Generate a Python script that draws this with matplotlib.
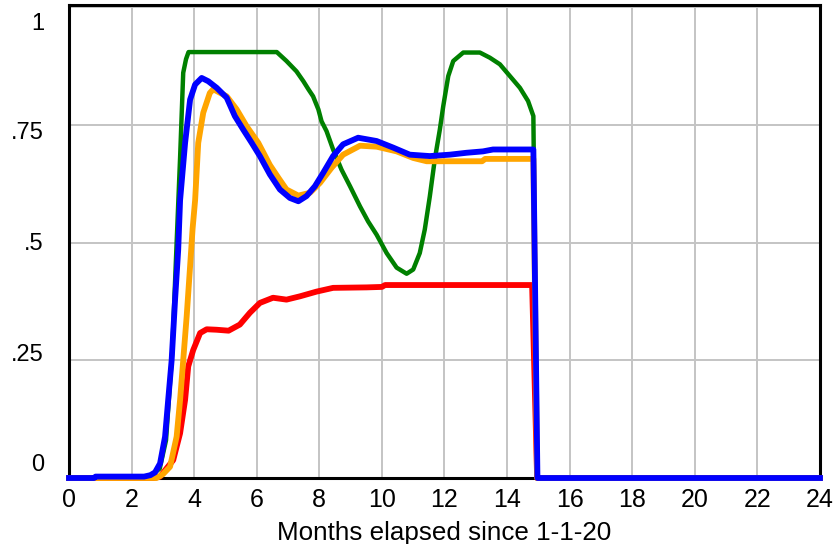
import matplotlib
matplotlib.use('Agg')
import matplotlib.pyplot as plt
from matplotlib.transforms import offset_copy

plt.rcParams['font.family'] = ['Liberation Sans', 'DejaVu Sans']

# 各曲线数据（月份, 数值）
green_x = [0, 2.6, 2.9, 3.1, 3.3, 3.44, 3.55, 3.65, 3.74, 3.82, 6.64, 6.95, 7.27, 7.49, 7.65,
           7.8, 7.97, 8.07, 8.23, 8.44, 8.71, 8.98, 9.3, 9.56, 9.83, 10.15, 10.47, 10.79, 11.0,
           11.21, 11.37, 11.53, 11.69, 11.85, 11.96, 12.12, 12.28, 12.6, 13.13, 13.45, 13.77,
           14.09, 14.41, 14.67, 14.84, 14.96, 24]
green_y = [0, 0.004, 0.02, 0.08, 0.27, 0.5, 0.68, 0.861, 0.89, 0.905, 0.905, 0.886, 0.864,
           0.843, 0.826, 0.811, 0.783, 0.758, 0.737, 0.698, 0.655, 0.62, 0.577, 0.545, 0.517,
           0.478, 0.447, 0.434, 0.443, 0.478, 0.528, 0.598, 0.677, 0.74, 0.79, 0.854, 0.886,
           0.904, 0.904, 0.893, 0.879, 0.854, 0.829, 0.801, 0.769, 0, 0]

orange_x = [0, 2.8, 3.0, 3.23, 3.44, 3.55, 3.65, 3.76, 3.87, 3.95, 4.03, 4.13, 4.29, 4.5, 4.61,
            5.04, 5.36, 5.68, 6.05, 6.42, 6.69, 6.95, 7.33, 7.7, 8.02, 8.39, 8.76, 9.3, 9.83,
            10.47, 11.0, 11.43, 13.2, 13.3, 14.84, 14.96, 24]
orange_y = [0, 0, 0.008, 0.024, 0.088, 0.166, 0.25, 0.343, 0.45, 0.53, 0.59, 0.712, 0.776,
            0.818, 0.826, 0.811, 0.783, 0.747, 0.712, 0.665, 0.638, 0.613, 0.6, 0.606, 0.627,
            0.659, 0.687, 0.706, 0.704, 0.694, 0.68, 0.673, 0.673, 0.678, 0.678, 0, 0]

red_x = [0, 2.7, 2.91, 3.33, 3.55, 3.71, 3.81, 3.97, 4.19, 4.4, 4.72, 5.1, 5.46, 5.78, 6.1,
         6.52, 6.95, 7.38, 7.91, 8.44, 9.51, 10.0, 10.1, 14.8, 14.96, 24]
red_y = [0, 0, 0.003, 0.038, 0.095, 0.166, 0.237, 0.272, 0.308, 0.316, 0.315, 0.313, 0.326,
         0.351, 0.372, 0.383, 0.379, 0.386, 0.396, 0.404, 0.405, 0.406, 0.41, 0.41, 0, 0]

blue_x = [0, 0.8, 0.85, 2.4, 2.6, 2.75, 2.91, 3.07, 3.17, 3.28, 3.39, 3.49, 3.55, 3.71, 3.87,
          4.03, 4.24, 4.45, 4.72, 5.04, 5.3, 5.57, 5.84, 6.1, 6.42, 6.74, 7.06, 7.33, 7.59,
          7.86, 8.12, 8.44, 8.76, 9.24, 9.83, 10.36, 10.89, 11.53, 12.17, 12.7, 13.23, 13.55,
          14.84, 14.97, 24]
blue_y = [0, 0, 0.003, 0.003, 0.006, 0.012, 0.031, 0.088, 0.166, 0.25, 0.379, 0.485, 0.59,
          0.712, 0.804, 0.836, 0.85, 0.843, 0.829, 0.808, 0.769, 0.74, 0.712, 0.684, 0.645,
          0.613, 0.595, 0.588, 0.599, 0.62, 0.648, 0.684, 0.709, 0.723, 0.716, 0.702, 0.687,
          0.684, 0.687, 0.691, 0.694, 0.698, 0.698, 0, 0]

x_ticks = list(range(0, 25, 2))
y_ticks = [0, 0.25, 0.5, 0.75, 1]
y_tick_labels = ['0', '.25', '.5', '.75', '1']
y_label_shift = [-9.4, -3.6, 0.7, 6.1, 12.2]   # 向下偏移（磅）
x_label = 'Months elapsed since 1-1-20'

fig = plt.figure(figsize=(8.37, 5.44), dpi=100)
ax = fig.add_axes([69 / 837, 66 / 544, 751 / 837, 473 / 544])

ax.plot(green_x, green_y, color='#008000', lw=3.2, zorder=3, clip_on=False, solid_joinstyle='round')
ax.plot(red_x, red_y, color='#ff0000', lw=4.2, zorder=3.1, clip_on=False, solid_joinstyle='round')
ax.plot(orange_x, orange_y, color='#ffa500', lw=4.2, zorder=3.2, clip_on=False, solid_joinstyle='round')
ax.plot(blue_x, blue_y, color='#0000ff', lw=4.2, zorder=3.3, clip_on=False, solid_joinstyle='round')

ax.set_xlim(0, 24)
ax.set_ylim(0, 1.005)
ax.set_xticks(x_ticks)
ax.set_yticks(y_ticks)
ax.set_yticklabels([])
ax.tick_params(axis='both', length=0)
ax.tick_params(axis='x', labelsize=18, pad=7)
ax.grid(True, color='#c4c4c4', lw=1.4)
ax.set_axisbelow(True)
for sp in ax.spines.values():
    sp.set_linewidth(2.2)
    sp.set_color('black')

# y轴刻度标签手动放置
for val, lab, dy in zip(y_ticks, y_tick_labels, y_label_shift):
    tr = offset_copy(ax.get_yaxis_transform(), fig=fig, x=-18, y=-dy, units='points')
    ax.text(0, val, lab, transform=tr, ha='right', va='center', fontsize=17)

fig.text(0.531, 4 / 544, x_label, ha='center', va='baseline', fontsize=18.7)

fig.savefig('out.png', dpi=100)
